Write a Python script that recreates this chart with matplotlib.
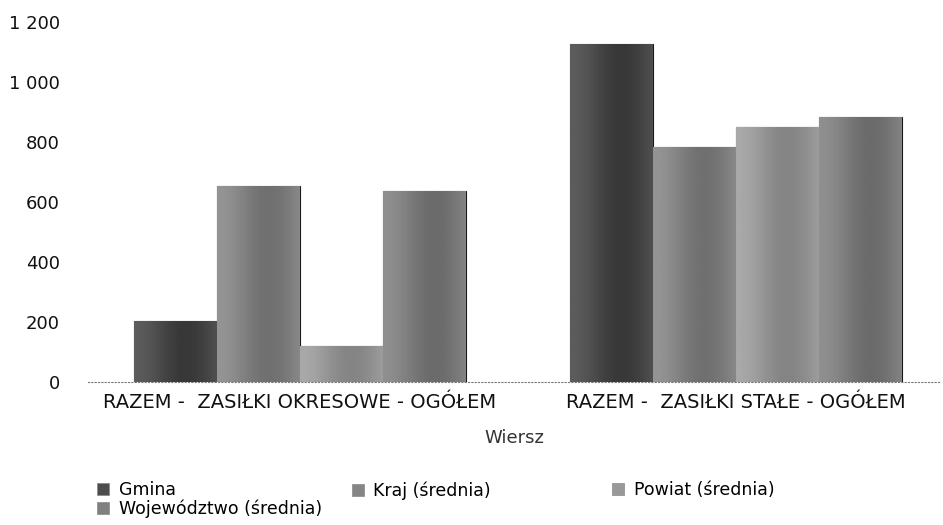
import matplotlib.pyplot as plt
import numpy as np
from matplotlib.patches import Patch

plt.rcParams['font.family'] = ['DejaVu Sans']

categories = ['RAZEM -  ZASIŁKI OKRESOWE - OGÓŁEM', 'RAZEM -  ZASIŁKI STAŁE - OGÓŁEM']
series = ['Gmina', 'Kraj (średnia)', 'Powiat (średnia)', 'Województwo (średnia)']
gmina = [205, 1127]
kraj = [653, 783]
powiat = [120, 850]
wojewodztwo = [637, 883]
yticks = [0, 200, 400, 600, 800, 1000, 1200]

values = [gmina, kraj, powiat, wojewodztwo]
base_grey = [0.30, 0.52, 0.60, 0.50]

fig = plt.figure(figsize=(9.43, 5.25), dpi=100)
ax = fig.add_axes([0.093, 0.272, 0.904, 0.686])

x = np.arange(len(categories))
w = 0.19
offsets = (np.arange(len(series)) - 1.5) * w

# soft horizontal shading across each bar: lighter left edge, darker middle
prof = np.linspace(0, 1, 64)
shade = 0.07 * np.cos(prof * np.pi * 1.6) - 0.01

for i, vals in enumerate(values):
    bars = ax.bar(x + offsets[i], vals, width=w, color=str(base_grey[i]),
                  edgecolor='#1a1a1a', linewidth=0.8, zorder=2)
    for b in bars:
        g = np.clip(base_grey[i] + shade, 0, 1)
        img = np.tile(g, (2, 1))
        im = ax.imshow(img, cmap='gray', vmin=0, vmax=1, aspect='auto',
                       extent=[b.get_x(), b.get_x() + b.get_width(), 0, b.get_height()],
                       zorder=2.5, interpolation='bilinear')
        im.set_clip_path(b)

ax.set_xlim(-0.486, 1.468)
ax.set_ylim(0, 1200)
ax.set_yticks(yticks)
ax.set_yticklabels([f'{v:,}'.replace(',', ' ') for v in yticks])
ax.set_xticks(x)
ax.set_xticklabels(categories, fontsize=14)
ax.tick_params(axis='both', length=0, colors='#111111')
ax.tick_params(axis='y', pad=20, labelsize=13)
ax.tick_params(axis='x', pad=8)
ax.set_xlabel('Wiersz', fontsize=13, color='#333333', labelpad=12)

for s in ['top', 'right', 'left']:
    ax.spines[s].set_visible(False)
ax.spines['bottom'].set_linestyle((0, (1, 2)))
ax.spines['bottom'].set_color('#777777')
ax.spines['bottom'].set_linewidth(0.8)

handles = [Patch(facecolor=str(base_grey[i]), edgecolor='#888888', linewidth=0.5)
           for i in range(len(series))]
leg_kw = dict(frameon=False, fontsize=12.5, handlelength=0.7, handleheight=0.7,
              handletextpad=0.55, labelspacing=0.0, borderaxespad=0, borderpad=0)
fig.legend([handles[0], handles[3]], [series[0], series[3]],
           loc='upper left', bbox_to_anchor=(0.103, 0.083), **leg_kw)
fig.legend([handles[1]], [series[1]],
           loc='upper left', bbox_to_anchor=(0.373, 0.083), **leg_kw)
fig.legend([handles[2]], [series[2]],
           loc='upper left', bbox_to_anchor=(0.649, 0.083), **leg_kw)

fig.savefig('out.png', dpi=100)
